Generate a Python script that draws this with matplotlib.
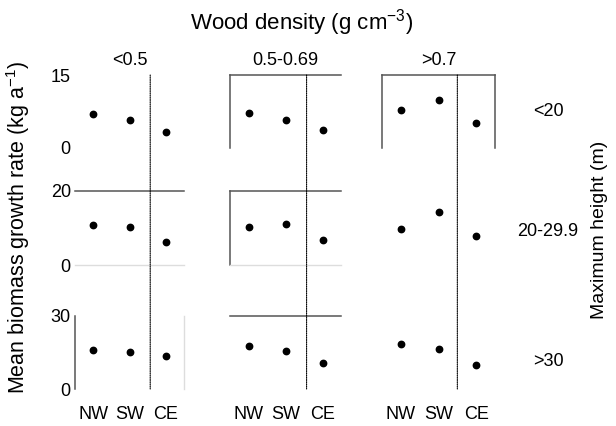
#!/usr/bin/env python3
"""
Mean biomass growth rate by region, split by wood density (columns)
and maximum height (rows).
"""

import matplotlib

matplotlib.use("Agg")
import matplotlib.pyplot as plt
from matplotlib.patches import ConnectionPatch

plt.rcParams["font.family"] = ["Liberation Sans", "DejaVu Sans"]
plt.rcParams["mathtext.fontset"] = "custom"
plt.rcParams["mathtext.rm"] = "Liberation Sans"
plt.rcParams["mathtext.it"] = "Liberation Sans"

# data
regions = ["NW", "SW", "CE"]
density_classes = ["<0.5", "0.5-0.69", ">0.7"]
height_classes = ["<20", "20-29.9", ">30"]
y_max = [15, 20, 30]

growth_lt20 = [[7.0, 5.8, 3.3], [7.1, 5.8, 3.7], [7.9, 9.8, 5.1]]
growth_20_29 = [[10.7, 10.3, 6.2], [10.4, 11.1, 6.7], [9.7, 14.2, 7.9]]
growth_gt30 = [[15.9, 15.3, 13.4], [17.6, 15.8, 10.7], [18.5, 16.6, 10.0]]
growth = [growth_lt20, growth_20_29, growth_gt30]

# layout (pixels in a 616 x 426 figure)
W, H = 616, 426
col_px = [(75, 184), (230, 341), (382, 495)]
row_px = [(75, 148), (191, 265), (316, 389)]
divider_x = [2.57, 2.57, 2.5]
row_label_y = [0.5, 0.45, 0.38]

# which frame lines survive in each panel: dark ones and faint ones
dark_spines = {
    (0, 1): ["left", "top"],
    (0, 2): ["left", "top", "right"],
    (1, 0): ["top"],
    (1, 1): ["top", "left"],
    (2, 0): ["left"],
    (2, 1): ["top"],
}
faint_spines = {
    (1, 0): ["bottom"],
    (1, 1): ["bottom"],
    (2, 0): ["right"],
}

FS = 13
fig = plt.figure(figsize=(W / 100, H / 100), dpi=100)

axes = [[None] * 3 for _ in range(3)]
for r, (top, bot) in enumerate(row_px):
    for c, (left, right) in enumerate(col_px):
        ax = fig.add_axes([left / W, 1 - bot / H, (right - left) / W, (bot - top) / H])
        axes[r][c] = ax
        ax.plot(range(1, 4), growth[r][c], "o", color="black", ms=4.6, ls="none")
        ax.set_xlim(0.5, 3.5)
        ax.set_ylim(0, y_max[r])
        for s in ax.spines.values():
            s.set_visible(False)
        for s in dark_spines.get((r, c), []):
            ax.spines[s].set_visible(True)
            ax.spines[s].set_color("#555555")
            ax.spines[s].set_linewidth(1.1)
        for s in faint_spines.get((r, c), []):
            ax.spines[s].set_visible(True)
            ax.spines[s].set_color("#dddddd")
            ax.spines[s].set_linewidth(1.0)
        ax.set_xticks(range(1, 4))
        ax.set_yticks([0, y_max[r]])
        ax.tick_params(length=0, labelsize=FS)
        ax.tick_params(axis="y", pad=3)
        ax.tick_params(axis="x", pad=12)
        if r == 2:
            ax.set_xticklabels(regions)
        else:
            ax.set_xticklabels([])
        if c != 0:
            ax.set_yticklabels([])
        if r == 0:
            ax.set_title(density_classes[c], fontsize=FS, pad=7)
        if c == 2:
            ax.text(1.47, row_label_y[r], height_classes[r], transform=ax.transAxes,
                    ha="center", va="center", fontsize=FS)

# dotted divider running through all three rows of each column
for c in range(3):
    con = ConnectionPatch(
        xyA=(divider_x[c], y_max[0]), coordsA=axes[0][c].transData,
        xyB=(divider_x[c], 0), coordsB=axes[2][c].transData,
        linestyle=(0, (1, 1)), color="black", linewidth=0.8,
    )
    fig.add_artist(con)

fig.text(302 / W, 1 - 23 / H, "Wood density (g cm$^{-3}$)", ha="center", va="center", fontsize=16)
fig.text(18 / W, 1 - 228 / H, "Mean biomass growth rate (kg a$^{-1}$)", rotation=90,
         ha="center", va="center", fontsize=15.5)
fig.text(600 / W, 1 - 230 / H, "Maximum height (m)", rotation=90,
         ha="center", va="center", fontsize=14)

fig.savefig("out.png", dpi=100)
